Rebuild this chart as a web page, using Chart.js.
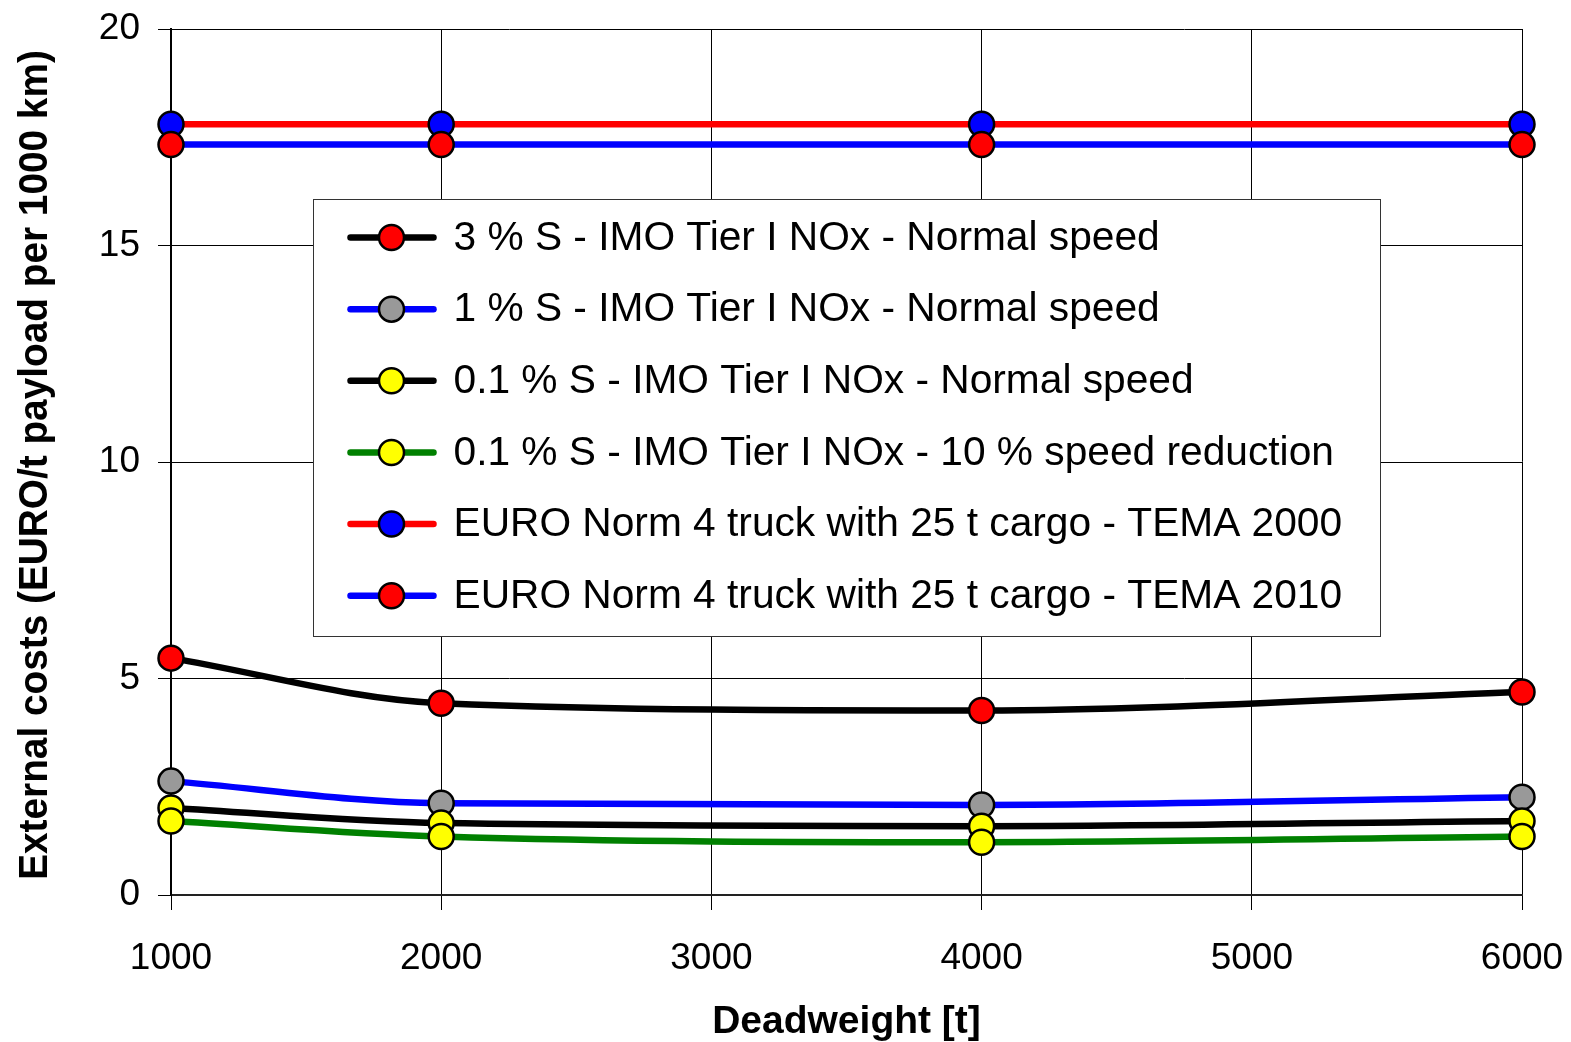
<!DOCTYPE html>
<html>
<head>
<meta charset="utf-8">
<script src="https://cdn.jsdelivr.net/npm/chart.js@4.4.1/dist/chart.umd.min.js"></script>
<style>
  html, body { margin: 0; padding: 0; background: #fff; }
  #wrap { width: 1571px; height: 1042px; }
</style>
</head>
<body>
<div id="wrap"><canvas id="c" width="1571" height="1042"></canvas></div>
<script>
// Deadweight of the vessels (t)
const deadweight = [1000, 2000, 4000, 6000];

// External costs, EURO per t payload per 1000 km
const s3Normal      = [5.47, 4.43, 4.26, 4.69];
const s1Normal      = [2.63, 2.12, 2.08, 2.26];
const s01Normal     = [2.01, 1.66, 1.59, 1.71];
const s01Reduced    = [1.71, 1.35, 1.22, 1.35];
const truckTema2000 = [17.8, 17.8, 17.8, 17.8];
const truckTema2010 = [17.33, 17.33, 17.33, 17.33];

const seriesLabels = [
  '3 % S - IMO Tier I NOx - Normal speed',
  '1 % S - IMO Tier I NOx - Normal speed',
  '0.1 % S - IMO Tier I NOx - Normal speed',
  '0.1 % S - IMO Tier I NOx - 10 % speed reduction',
  'EURO Norm 4 truck with 25 t cargo - TEMA 2000',
  'EURO Norm 4 truck with 25 t cargo - TEMA 2010'
];

// Axis ticks and titles
const xTicks = [1000, 2000, 3000, 4000, 5000, 6000];
const yTicks = [0, 5, 10, 15, 20];
const xTitle = 'Deadweight [t]';
const yTitle = 'External costs (EURO/t payload per 1000 km)';

const seriesValues = [s3Normal, s1Normal, s01Normal, s01Reduced, truckTema2000, truckTema2010];
const lineColors   = ['#000000', '#0000ff', '#000000', '#008000', '#ff0000', '#0000ff'];
const markerColors = ['#ff0000', '#999999', '#ffff00', '#ffff00', '#0000ff', '#ff0000'];

const datasets = seriesValues.map((vals, i) => ({
  label: seriesLabels[i],
  data: deadweight.map((x, j) => ({ x: x, y: vals[j] })),
  borderColor: lineColors[i],
  borderWidth: 6.5,
  backgroundColor: markerColors[i],
  pointBackgroundColor: markerColors[i],
  pointBorderColor: '#000000',
  pointBorderWidth: 2.5,
  pointRadius: 12.5,
  pointHoverRadius: 12.5,
  cubicInterpolationMode: 'monotone',
  order: seriesValues.length - i,
  clip: false
}));

const FONT = "'Liberation Sans', Arial, sans-serif";

// Framed legend drawn inside the plot area
const legendBox = {
  id: 'legendBox',
  afterDatasetsDraw(chart) {
    const { ctx, chartArea: a } = chart;
    const w = a.right - a.left, h = a.bottom - a.top;
    const bx = Math.round(a.left + w * 0.1051) + 0.5;
    const by = Math.round(a.top + h * 0.1963) + 0.5;
    const bw = Math.round(w * 0.7899);
    const bh = Math.round(h * 0.5046);
    ctx.save();
    ctx.fillStyle = '#ffffff';
    ctx.fillRect(bx, by, bw, bh);
    ctx.strokeStyle = '#333333';
    ctx.lineWidth = 1;
    ctx.strokeRect(bx, by, bw, bh);
    const rowStep = bh / 6.1;
    chart.data.datasets.forEach((ds, i) => {
      const cy = by + bh * 0.087 + i * rowStep;
      ctx.lineCap = 'round';
      ctx.strokeStyle = ds.borderColor;
      ctx.lineWidth = 6.5;
      ctx.beginPath();
      ctx.moveTo(bx + 37, cy);
      ctx.lineTo(bx + 120, cy);
      ctx.stroke();
      ctx.beginPath();
      ctx.arc(bx + 78, cy, 12.5, 0, Math.PI * 2);
      ctx.fillStyle = ds.pointBackgroundColor;
      ctx.fill();
      ctx.lineWidth = 2.5;
      ctx.strokeStyle = '#000';
      ctx.stroke();
      ctx.fillStyle = '#000';
      ctx.font = '40.7px ' + FONT;
      ctx.textBaseline = 'middle';
      ctx.textAlign = 'left';
      ctx.fillText(ds.label, bx + 140, cy + 1);
    });
    ctx.restore();
  }
};

// Condensed, rotated title for the value axis
const yAxisTitle = {
  id: 'yAxisTitle',
  afterDraw(chart) {
    const { ctx, chartArea: a } = chart;
    const cy = (a.top + a.bottom) / 2 + 3;
    ctx.save();
    ctx.translate(36, cy);
    ctx.rotate(-Math.PI / 2);
    ctx.font = 'bold 40px ' + FONT;
    const natural = ctx.measureText(yTitle).width;
    const target = (a.bottom - a.top) * 0.958;
    ctx.scale(target / natural, 1);
    ctx.fillStyle = '#000';
    ctx.textAlign = 'center';
    ctx.textBaseline = 'middle';
    ctx.fillText(yTitle, 0, 0);
    ctx.restore();
  }
};

const whiteBg = {
  id: 'whiteBg',
  beforeDraw(chart) {
    const ctx = chart.ctx;
    ctx.save();
    ctx.fillStyle = '#fff';
    ctx.fillRect(0, 0, chart.width, chart.height);
    ctx.restore();
  }
};

new Chart(document.getElementById('c'), {
  type: 'line',
  data: { datasets: datasets },
  options: {
    responsive: false,
    animation: false,
    events: [],
    layout: { padding: { top: 29, right: 49, left: 0, bottom: 0 } },
    plugins: {
      legend: { display: false },
      tooltip: { enabled: false }
    },
    scales: {
      x: {
        type: 'linear',
        min: xTicks[0],
        max: xTicks[xTicks.length - 1],
        afterBuildTicks(scale) { scale.ticks = xTicks.map(v => ({ value: v })); },
        afterFit(scale) {
          scale.height = 147;
          scale.paddingLeft = 0;
          scale.paddingRight = 0;
        },
        ticks: {
          callback: v => String(v),
          color: '#000',
          font: { family: FONT, size: 37 },
          padding: 27,
          maxRotation: 0,
          autoSkip: false
        },
        grid: { color: '#000', lineWidth: 1, tickLength: 15, drawTicks: true },
        border: { color: '#222', width: 2 },
        title: {
          display: true,
          text: xTitle,
          color: '#000',
          font: { family: FONT, size: 39, weight: 'bold', lineHeight: 1.0 },
          padding: { top: 0, bottom: 0 }
        }
      },
      y: {
        type: 'linear',
        min: yTicks[0],
        max: yTicks[yTicks.length - 1],
        afterBuildTicks(scale) { scale.ticks = yTicks.map(v => ({ value: v })); },
        afterFit(scale) {
          scale.width = 171;
          scale.paddingTop = 0;
          scale.paddingBottom = 0;
        },
        ticks: {
          color: '#000',
          font: { family: FONT, size: 37 },
          padding: 18
        },
        grid: { color: '#000', lineWidth: 1, tickLength: 13, drawTicks: true },
        border: { color: '#000', width: 2 },
        title: { display: false }
      }
    }
  },
  plugins: [whiteBg, legendBox, yAxisTitle]
});
</script>
</body>
</html>
